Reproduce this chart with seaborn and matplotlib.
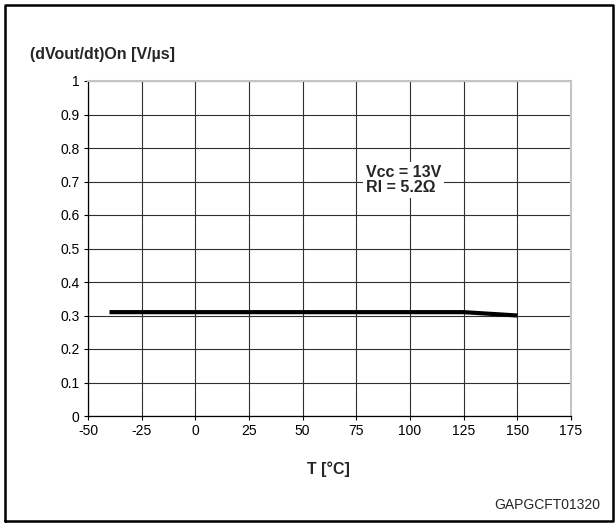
import numpy as np
import pandas as pd
import matplotlib
matplotlib.use("Agg")
import matplotlib.pyplot as plt
import seaborn as sns
from matplotlib.lines import Line2D

# Curve data
temperature = [-40, 25, 125, 150]
dvdt_on = [0.31, 0.31, 0.31, 0.30]

x_ticks = [-50, -25, 0, 25, 50, 75, 100, 125, 150, 175]
y_ticks = [0, 0.1, 0.2, 0.3, 0.4, 0.5, 0.6, 0.7, 0.8, 0.9, 1]
y_tick_labels = ["0", "0.1", "0.2", "0.3", "0.4", "0.5", "0.6", "0.7", "0.8", "0.9", "1"]

sns.set_style("white")
plt.rcParams['font.family'] = ['Liberation Sans', 'DejaVu Sans']

W, H = 615, 523
fig = plt.figure(figsize=(W / 100, H / 100), dpi=100)
ax = fig.add_axes([88 / W, 1 - 416 / H, (571 - 88) / W, (416 - 81) / H])

df = pd.DataFrame({"T": temperature, "dv": dvdt_on})
sns.lineplot(data=df, x="T", y="dv", ax=ax, color="black", linewidth=3,
             solid_capstyle="butt", zorder=3)

ax.set_xlim(-50, 175)
ax.set_ylim(0, 1)
ax.set_xticks(x_ticks)
ax.set_xticklabels([str(t) for t in x_ticks])
ax.set_yticks(y_ticks)
ax.set_yticklabels(y_tick_labels)
ax.set_xlabel("")
ax.set_ylabel("")

ax.grid(True, color="#303030", linewidth=0.8)
ax.set_axisbelow(True)
ax.tick_params(axis="both", direction="out", length=3, width=0.8, color="black",
               labelsize=10, labelcolor="black", pad=3)
ax.tick_params(left=True, bottom=True)

for side in ["left", "bottom"]:
    ax.spines[side].set_color("black")
    ax.spines[side].set_linewidth(0.9)
for side in ["top", "right"]:
    ax.spines[side].set_color("#c4c4c4")
    ax.spines[side].set_linewidth(1.5)

# condition box
ax.text(79.5, 0.705, "Vcc = 13V\nRl = 5.2\u03a9", fontsize=11.5, fontweight="bold",
        ha="left", va="center", linespacing=1.05, zorder=4,
        bbox=dict(facecolor="white", edgecolor="none", pad=2))

# labels
fig.text(30 / W, 1 - 54 / H, "(dVout/dt)On [V/\u00b5s]", fontsize=11.5,
         fontweight="bold", ha="left", va="center")
fig.text(328 / W, 1 - 469 / H, "T [\u00b0C]", fontsize=11.5,
         fontweight="bold", ha="center", va="center")
fig.text(600 / W, 1 - 505 / H, "GAPGCFT01320", fontsize=10,
         ha="right", va="center")

# outer frame
frame_x = [5 / W, 5 / W, 613 / W, 613 / W, 5 / W]
frame_y = [1 - 521 / H, 1 - 5 / H, 1 - 5 / H, 1 - 521 / H, 1 - 521 / H]
fig.add_artist(Line2D(frame_x, frame_y, color="black", linewidth=1.8,
                      transform=fig.transFigure))

fig.savefig("out.png", dpi=100)
